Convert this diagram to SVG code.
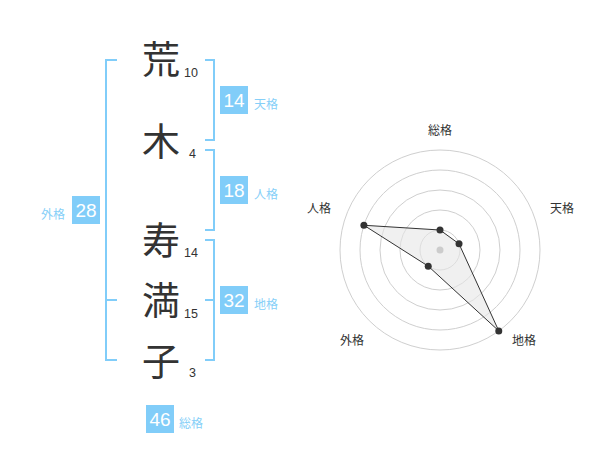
<svg xmlns="http://www.w3.org/2000/svg" width="600" height="470" viewBox="0 0 600 470">
<style>
.ch{font-family:"Noto Sans CJK JP","Noto Sans",sans-serif;font-size:38px;fill:#333;text-anchor:middle}
.sn{font-family:"Liberation Sans",Arial,sans-serif;font-size:12.5px;fill:#333}
.bx{fill:#81cdf9}
.bn{font-family:"Liberation Sans",Arial,sans-serif;font-size:19px;fill:#fff;text-anchor:middle}
.bl{font-family:"Noto Sans CJK JP",sans-serif;font-size:12px;fill:#86cff8}
.br{fill:none;stroke:#81cdf9;stroke-width:2}
.ring{fill:none;stroke:#cfcfcf;stroke-width:1}
.rl{font-family:"Noto Sans CJK JP",sans-serif;font-size:12px;fill:#333;text-anchor:middle}
.pt{fill:#333}
</style>
<rect width="600" height="470" fill="#fff"/>
<g id="connectors">
<path class="br" d="M205,60 H214 V140 H205"/>
<path class="br" d="M205,150 H214 V230 H205"/>
<path class="br" d="M205,240 H214 V360 H205 M205,300 H214"/>
<path class="br" d="M117,60 H106 V360 H117 M106,300 H117"/>
</g>
<g id="name">
<g id="c1"><text class="ch" x="161" y="73">荒</text><text class="sn" x="184" y="77">10</text></g>
<g id="c2"><text class="ch" x="161" y="154.5">木</text><text class="sn" x="189" y="158">4</text></g>
<g id="c3"><text class="ch" x="161" y="254">寿</text><text class="sn" x="184" y="257">14</text></g>
<g id="c4"><text class="ch" x="161" y="314">満</text><text class="sn" x="184" y="317.5">15</text></g>
<g id="c5"><text class="ch" x="161" y="374.5">子</text><text class="sn" x="189" y="376.5">3</text></g>
</g>
<g id="tenkaku"><rect class="bx" x="220" y="86" width="28" height="28"/><text class="bn" x="234" y="107">14</text><text class="bl" x="254" y="108.5">天格</text></g>
<g id="jinkaku"><rect class="bx" x="220" y="176" width="28" height="28"/><text class="bn" x="234" y="197">18</text><text class="bl" x="254" y="198.5">人格</text></g>
<g id="chikaku"><rect class="bx" x="220" y="286" width="28" height="28"/><text class="bn" x="234" y="307">32</text><text class="bl" x="254" y="308.5">地格</text></g>
<g id="gaikaku"><rect class="bx" x="72" y="196" width="28" height="28"/><text class="bn" x="86" y="217">28</text><text class="bl" x="41" y="218.5">外格</text></g>
<g id="soukaku"><rect class="bx" x="146" y="405" width="28" height="28"/><text class="bn" x="160" y="426">46</text><text class="bl" x="179" y="427.5">総格</text></g>
<g id="radar">
<circle class="ring" cx="440" cy="250" r="20"/>
<circle class="ring" cx="440" cy="250" r="40"/>
<circle class="ring" cx="440" cy="250" r="60"/>
<circle class="ring" cx="440" cy="250" r="80"/>
<circle class="ring" cx="440" cy="250" r="100"/>
<polygon points="440,230 459.02,243.82 498.78,330.9 428.24,266.18 363.91,225.28" fill="#e6e6e6" fill-opacity="0.6" stroke="#333" stroke-width="1"/>
<circle cx="440" cy="250" r="3.5" fill="#cccccc"/>
<circle class="pt" cx="440" cy="230" r="3.5"/>
<circle class="pt" cx="459.02" cy="243.82" r="3.5"/>
<circle class="pt" cx="498.78" cy="330.9" r="3.5"/>
<circle class="pt" cx="428.24" cy="266.18" r="3.5"/>
<circle class="pt" cx="363.91" cy="225.28" r="3.5"/>
<text class="rl" x="440" y="134.5">総格</text>
<text class="rl" x="562" y="212.5">天格</text>
<text class="rl" x="524" y="344.5">地格</text>
<text class="rl" x="352" y="344.5">外格</text>
<text class="rl" x="319" y="212.5">人格</text>
</g>
</svg>
